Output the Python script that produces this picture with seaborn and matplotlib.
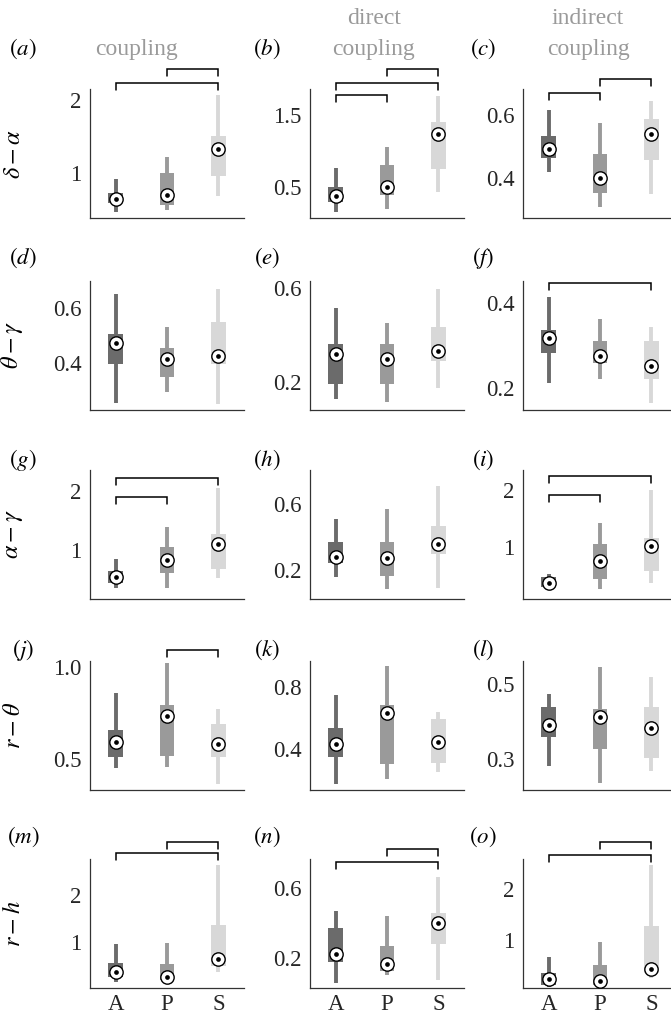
import numpy as np
import pandas as pd
import matplotlib
matplotlib.use("Agg")
import matplotlib.pyplot as plt
import matplotlib.transforms as mtransforms
import seaborn as sns

# ---------------- data ----------------
groups = ["A", "P", "S"]
# five-number summaries per group: [min, q1, median, q3, max]
panel_a = [[0.46, 0.59, 0.64, 0.73, 0.92], [0.50, 0.56, 0.70, 1.00, 1.22], [0.685, 0.96, 1.33, 1.51, 2.07]]
panel_b = [[0.15, 0.29, 0.375, 0.49, 0.756], [0.19, 0.38, 0.50, 0.80, 1.05], [0.43, 0.74, 1.23, 1.40, 1.765]]
panel_c = [[0.421, 0.463, 0.492, 0.534, 0.616], [0.31, 0.353, 0.402, 0.477, 0.576], [0.35, 0.458, 0.539, 0.586, 0.645]]
panel_d = [[0.256, 0.396, 0.474, 0.504, 0.649], [0.296, 0.352, 0.414, 0.454, 0.532], [0.254, 0.396, 0.426, 0.547, 0.666]]
panel_e = [[0.126, 0.189, 0.321, 0.362, 0.517], [0.112, 0.19, 0.296, 0.36, 0.453], [0.174, 0.289, 0.331, 0.436, 0.596]]
panel_f = [[0.212, 0.284, 0.319, 0.337, 0.414], [0.221, 0.259, 0.277, 0.31, 0.362], [0.165, 0.221, 0.253, 0.312, 0.345]]
panel_g = [[0.35, 0.446, 0.537, 0.65, 0.842], [0.35, 0.605, 0.83, 1.056, 1.395], [0.52, 0.673, 1.10, 1.27, 2.045]]
panel_h = [[0.156, 0.241, 0.281, 0.372, 0.509], [0.082, 0.165, 0.271, 0.369, 0.57], [0.089, 0.296, 0.357, 0.47, 0.712]]
panel_i = [[0.25, 0.29, 0.354, 0.47, 0.518], [0.254, 0.43, 0.748, 1.04, 1.41], [0.354, 0.577, 1.01, 1.15, 2.0]]
panel_j = [[0.451, 0.514, 0.592, 0.658, 0.856], [0.46, 0.518, 0.734, 0.793, 1.021], [0.367, 0.511, 0.581, 0.691, 0.771]]
panel_k = [[0.176, 0.348, 0.434, 0.539, 0.75], [0.206, 0.303, 0.636, 0.686, 0.937], [0.256, 0.314, 0.445, 0.595, 0.639]]
panel_l = [[0.282, 0.36, 0.391, 0.439, 0.473], [0.236, 0.327, 0.414, 0.434, 0.547], [0.269, 0.303, 0.384, 0.439, 0.52]]
panel_m = [[0.14, 0.237, 0.357, 0.537, 0.944], [0.12, 0.18, 0.25, 0.52, 0.966], [0.345, 0.486, 0.623, 1.357, 2.64]]
panel_n = [[0.061, 0.177, 0.225, 0.371, 0.47], [0.105, 0.129, 0.167, 0.272, 0.443], [0.076, 0.282, 0.403, 0.457, 0.663]]
panel_o = [[0.067, 0.112, 0.225, 0.343, 0.659], [0.067, 0.112, 0.191, 0.507, 0.967], [0.244, 0.343, 0.422, 1.276, 2.48]]

panel_letters = list("abcdefghijklmno")
panels = dict(zip(panel_letters, [panel_a, panel_b, panel_c, panel_d, panel_e, panel_f, panel_g, panel_h,
                                   panel_i, panel_j, panel_k, panel_l, panel_m, panel_n, panel_o]))

row_labels = [r"$\delta - \alpha$", r"$\theta - \gamma$", r"$\alpha - \gamma$", r"$r - \theta$", r"$r - h$"]
col_title_lines = [["coupling"], ["direct", "coupling"], ["indirect", "coupling"]]

yticks = {"a": [1, 2], "b": [0.5, 1.5], "c": [0.4, 0.6], "d": [0.4, 0.6], "e": [0.2, 0.6], "f": [0.2, 0.4],
          "g": [1, 2], "h": [0.2, 0.6], "i": [1, 2], "j": [0.5, 1.0], "k": [0.4, 0.8], "l": [0.3, 0.5],
          "m": [1, 2], "n": [0.2, 0.6], "o": [1, 2]}
ytick_labels = {"a": ["1", "2"], "b": ["0.5", "1.5"], "c": ["0.4", "0.6"], "d": ["0.4", "0.6"], "e": ["0.2", "0.6"],
                "f": ["0.2", "0.4"], "g": ["1", "2"], "h": ["0.2", "0.6"], "i": ["1", "2"], "j": ["0.5", "1.0"],
                "k": ["0.4", "0.8"], "l": ["0.3", "0.5"], "m": ["1", "2"], "n": ["0.2", "0.6"], "o": ["1", "2"]}

# significant pairs (group indices)
sig_pairs = {"a": [(0, 2), (1, 2)], "b": [(0, 1), (0, 2), (1, 2)], "c": [(0, 1), (1, 2)],
             "f": [(0, 2)], "g": [(0, 2), (0, 1)], "i": [(0, 2), (0, 1)], "j": [(1, 2)],
             "m": [(0, 2), (1, 2)], "n": [(0, 2), (1, 2)], "o": [(0, 2), (1, 2)]}

# ---------------- layout ----------------
ylims = {"a": (0.384, 2.151), "b": (0.063, 1.863), "c": (0.275, 0.682), "d": (0.232, 0.696),
         "e": (0.079, 0.632), "f": (0.149, 0.452), "g": (0.169, 2.356), "h": (0.023, 0.809),
         "i": (0.078, 2.353), "j": (0.334, 1.03), "k": (0.137, 0.97), "l": (0.218, 0.562),
         "m": (0.009, 2.771), "n": (0.03, 0.767), "o": (0.053, 2.598)}
bracket_levels = {"a": [1.049, 1.153], "b": [0.953, 1.049, 1.153], "c": [0.971, 1.075], "f": [0.987],
                  "g": [0.94, 0.793], "i": [0.953, 0.806], "j": [1.085], "m": [1.044, 1.134],
                  "n": [0.979, 1.075], "o": [1.031, 1.129]}

W, H = 671, 1018
col_left = [90, 310, 523]
row_bottom = [218, 410, 599, 790, 988]
ax_w, ax_h = 154, 129
label_x = [23, 267, 483]
label_y = [49, 258, 460, 650, 837]

palette = {"A": "#6b6b6b", "P": "#9a9a9a", "S": "#d8d8d8"}
FS = 16.5

sns.set_theme(style="white")
plt.rcParams["font.family"] = ["Liberation Serif", "DejaVu Serif"]
plt.rcParams["mathtext.fontset"] = "stix"

fig = plt.figure(figsize=(W / 100, H / 100), dpi=100)
fig.patch.set_facecolor("white")

for r in range(5):
    for c in range(3):
        key = panel_letters[r * 3 + c]
        stats = panels[key]
        ax = fig.add_axes([col_left[c] / W, 1 - row_bottom[r] / H, ax_w / W, ax_h / H])
        ax.set_facecolor("none")

        df = pd.DataFrame({"group": np.repeat(groups, 5), "value": np.concatenate(stats)})
        sns.boxplot(data=df, x="group", y="value", hue="group", palette=palette, order=groups,
                    hue_order=groups, whis=np.inf, width=0.28, saturation=1, showcaps=False,
                    showfliers=False, legend=False, linewidth=2.8,
                    medianprops=dict(visible=False), ax=ax)
        for patch in ax.patches:
            fc = patch.get_facecolor()
            patch.set_edgecolor(fc)
            patch.set_linewidth(0)
        for line in ax.lines:
            xd = np.asarray(line.get_xdata(), dtype=float)
            if xd.size == 0:
                continue
            idx = int(round(float(np.mean(xd))))
            idx = min(max(idx, 0), 2)
            line.set_color(palette[groups[idx]])
            line.set_linewidth(2.8)
            line.set_solid_capstyle("butt")

        med_df = pd.DataFrame({"group": groups, "median": [s[2] for s in stats]})
        sns.stripplot(data=med_df, x="group", y="median", order=groups, jitter=False, color="white",
                      edgecolor="black", linewidth=1.0, size=9.6, zorder=4, ax=ax)
        sns.stripplot(data=med_df, x="group", y="median", order=groups, jitter=False, color="black",
                      linewidth=0, size=3.4, zorder=5, ax=ax)

        ax.set_xlim(-0.5, 2.5)
        ax.set_ylim(*ylims[key])
        ax.set_yticks(yticks[key])
        ax.set_yticklabels(ytick_labels[key])
        ax.tick_params(axis="y", length=0, labelsize=FS, pad=6)
        ax.set_xticks(range(3))
        if r < 4:
            ax.set_xticklabels([])
            ax.tick_params(axis="x", length=0)
        else:
            ax.set_xticklabels(groups)
            ax.tick_params(axis="x", length=0, labelsize=FS, pad=4)
        ax.set_xlabel("")
        ax.set_ylabel("")
        sns.despine(ax=ax)
        for s in ["left", "bottom"]:
            ax.spines[s].set_color("#333333")
            ax.spines[s].set_linewidth(0.9)
        ax.grid(False)

        if c == 0:
            ax.set_ylabel(row_labels[r], fontsize=17.5, color="black")
            ax.yaxis.set_label_coords(-0.42, 0.5)

        if key in sig_pairs:
            trans = mtransforms.blended_transform_factory(ax.transData, ax.transAxes)
            for (i, j), lvl in zip(sig_pairs[key], bracket_levels[key]):
                ax.plot([i, i, j, j], [lvl - 0.054, lvl, lvl, lvl - 0.054], transform=trans,
                        color="black", lw=1.1, clip_on=False, solid_joinstyle="miter")

        fig.text(label_x[c] / W, 1 - label_y[r] / H, r"$(\mathit{" + key + r"})$", fontsize=FS,
                 ha="center", va="center", color="black")

# column titles
title_x = [136, 374, 588]
for c, lines in enumerate(col_title_lines):
    ys = [49] if len(lines) == 1 else [19, 49]
    for txt, y in zip(lines, ys):
        fig.text(title_x[c] / W, 1 - y / H, txt, fontsize=FS + 0.5, color="#9a9a9a", ha="center", va="center")

fig.savefig("out.png", dpi=100, facecolor="white")
